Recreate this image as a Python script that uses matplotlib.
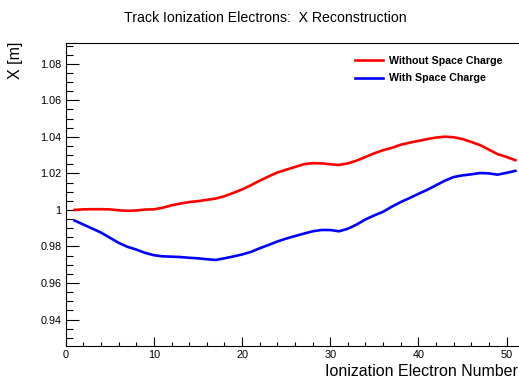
import matplotlib
matplotlib.use("Agg")
import matplotlib.pyplot as plt
from matplotlib.ticker import MultipleLocator, FuncFormatter

plt.rcParams['font.family'] = ['Liberation Sans', 'DejaVu Sans']

electron_number = list(range(1, 52))
x_without_sc = [
    1.0000, 1.0003, 1.0004, 1.0004, 1.0003, 0.9998, 0.9995, 0.9997, 1.0002, 1.0003,
    1.0012, 1.0025, 1.0035, 1.0043, 1.0048, 1.0055, 1.0062, 1.0075, 1.0093, 1.0112,
    1.0135, 1.0160, 1.0183, 1.0205, 1.0220, 1.0235, 1.0250, 1.0256, 1.0255, 1.0250,
    1.0246, 1.0255, 1.0270, 1.0290, 1.0310, 1.0327, 1.0340, 1.0357, 1.0368, 1.0378,
    1.0388, 1.0396, 1.0401, 1.0398, 1.0388, 1.0372, 1.0355, 1.0330, 1.0305, 1.0290,
    1.0272,
]
x_with_sc = [
    0.9942, 0.9920, 0.9898, 0.9876, 0.9848, 0.9820, 0.9798, 0.9783, 0.9765, 0.9752,
    0.9746, 0.9744, 0.9742, 0.9738, 0.9735, 0.9730, 0.9726, 0.9735, 0.9745, 0.9756,
    0.9770, 0.9790, 0.9808, 0.9827, 0.9843, 0.9857, 0.9870, 0.9883, 0.9890, 0.9890,
    0.9883, 0.9897, 0.9920, 0.9948, 0.9970, 0.9990, 1.0018, 1.0043, 1.0065, 1.0088,
    1.0110, 1.0135, 1.0160, 1.0180, 1.0189, 1.0195, 1.0202, 1.0200, 1.0193, 1.0203,
    1.0214,
]
series_labels = ["Without Space Charge", "With Space Charge"]

fig = plt.figure(figsize=(5.19, 3.84), dpi=100)
ax = fig.add_axes([0.1266, 0.099, 0.8734 + 0.01, 0.79])

ax.plot(electron_number, x_without_sc, color='#ff0000', lw=1.9, label=series_labels[0])
ax.plot(electron_number, x_with_sc, color='#0000ff', lw=1.9, label=series_labels[1])

ax.set_xlim(0, 52.0)
ax.set_ylim(0.9255, 1.0916)

ax.spines['right'].set_visible(False)
for s in ['left', 'bottom', 'top']:
    ax.spines[s].set_linewidth(0.8)

ax.xaxis.set_major_locator(MultipleLocator(10))
ax.xaxis.set_minor_locator(MultipleLocator(2))
ax.yaxis.set_major_locator(MultipleLocator(0.02))
ax.yaxis.set_minor_locator(MultipleLocator(0.005))

def yfmt(v, pos):
    if abs(v - 1.0) < 1e-9:
        return "1"
    return f"{v:.2f}"
ax.yaxis.set_major_formatter(FuncFormatter(yfmt))

ax.tick_params(axis='y', which='major', direction='in', length=9.5, width=0.8, labelsize=7.8, pad=3)
ax.tick_params(axis='y', which='minor', direction='in', length=4.8, width=0.8)
ax.tick_params(axis='x', which='major', direction='in', length=6.5, width=0.8, labelsize=7.8, pad=3)
ax.tick_params(axis='x', which='minor', direction='in', length=3.2, width=0.8)

fig.text(0.511, 0.953, "Track Ionization Electrons:  X Reconstruction", ha='center', va='center', fontsize=10.2)
fig.text(0.998, 0.022, "Ionization Electron Number", ha='right', va='baseline', fontsize=11.5)
fig.text(0.029, 0.892, "X [m]", ha='center', va='top', rotation=90, fontsize=11.5)

leg = fig.legend(loc='upper left', bbox_to_anchor=(355 / 519, 1 - 55.5 / 384), frameon=False,
                 prop={'weight': 'bold', 'size': 7.65}, handlelength=2.64, handletextpad=0.57,
                 labelspacing=0.74, borderpad=0, borderaxespad=0)

fig.savefig("out.png", dpi=100)
